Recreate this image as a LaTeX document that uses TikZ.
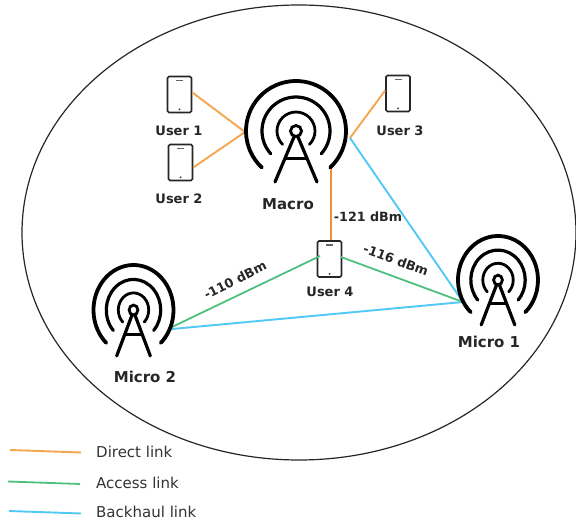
\documentclass[tikz,border=0pt]{standalone}
\usepackage{fontspec}
\usetikzlibrary{shapes.geometric}
\setmainfont{DejaVu Sans}
\definecolor{directc}{HTML}{F4A64E}
\definecolor{directd}{HTML}{EC9234}
\definecolor{accessc}{HTML}{4DBF7F}
\definecolor{backc}{HTML}{52C8F4}
\newcommand{\towerdraw}[5]{%
  \coordinate (#1) at (#2,#3);
  \begin{scope}[shift={(#1)},xscale=#4,yscale=#5,line cap=round]
    \draw[line width=3.8pt] (227:50pt) arc (227:-47:50pt);
    \draw[line width=3.2pt] (222:34pt) arc (222:-42:34pt);
    \draw[line width=2.8pt] (225:19pt) arc (225:-45:19pt);
    \draw[line width=2.8pt] (0,0) circle (5.5pt);
    \draw[line width=3.2pt] (-21,51) -- (-2,6);
    \draw[line width=3.2pt] (21,51) -- (2,6);
    \draw[line width=3pt] (-10,27) -- (10,27);
  \end{scope}}
\tikzset{
  phone/.style={draw=black!85,line width=1.7pt,rounded corners=1.5pt,minimum width=24pt,inner sep=0pt,fill=white,minimum height=36pt},
  lbl/.style={font=\fontsize{13}{15}\selectfont\bfseries,text=black!85,inner sep=0pt},
  biglbl/.style={font=\fontsize{15}{17}\selectfont\bfseries,text=black!85,inner sep=0pt},
  dbm/.style={font=\fontsize{12.7}{15}\selectfont\bfseries,text=black!85,inner sep=0pt},
  leg/.style={font=\fontsize{15}{17}\selectfont,text=black!80,inner sep=0pt,anchor=west},
  direct/.style={draw=directc,line width=1.9pt},
  directv/.style={draw=directd,line width=1.8pt},
  access/.style={draw=accessc,line width=1.8pt},
  backhaul/.style={draw=backc,line width=1.9pt}
}
\newcommand{\phonedraw}[3]{%
  \node[phone] (#1) at (#2,#3) {};
  \fill[black!60] ([yshift=-4pt]#1.north) ++(-3.5pt,0pt) rectangle ++(7pt,-1.6pt);
  \fill[black!75] ([yshift=4pt]#1.south) circle (1.1pt);}
\begin{document}
\begin{tikzpicture}[x=1pt,y=-1pt]
\useasboundingbox (0,0) rectangle (576,527);
\node[draw=black!85,line width=1.2pt,ellipse,minimum width=554pt,minimum height=455pt,inner sep=0pt] (cell) at (299,232.5) {};

\coordinate (mL) at (245,132);
\coordinate (mR) at (350,138);
\coordinate (mB) at (331,166);
\coordinate (m1) at (463,302);
\coordinate (m2a) at (172,327);
\coordinate (m2b) at (172,329);

\phonedraw{u1}{179.5}{94.5}
\phonedraw{u2}{180.5}{162.5}
\phonedraw{u3}{398}{93.5}
\phonedraw{u4}{329.5}{259}

\draw[direct] (u1.east) ++(0,-2) coordinate (u1p) (u1p) -- (mL);
\draw[direct] (u2.east) ++(0,5) coordinate (u2p) (u2p) -- (mL);
\draw[direct] (u3.west) ++(0,-3) coordinate (u3p) (u3p) -- (mR);
\draw[backhaul] (mR) -- (m1);
\draw[directv] (mB) -- (u4.north -| mB);
\coordinate (u4l) at (320,256);
\coordinate (u4r) at (341,257);
\draw[access] (m2a) -- (u4l);
\draw[access] (u4r) -- (m1);
\draw[backhaul] (m2b) -- (m1);

\towerdraw{macro}{296}{131}{1}{1}
\towerdraw{microa}{498}{280}{0.8}{0.88}
\towerdraw{microb}{133.5}{310}{0.8}{0.9}

\node[lbl] (l1) at (179,131) {User 1};
\node[lbl] (l2) at (179,199) {User 2};
\node[lbl] (l3) at (400,131) {User 3};
\node[lbl] (l4) at (330,292) {User 4};
\node[biglbl] (lm) at (288,204) {Macro};
\node[biglbl] (lm1) at (489,342) {Micro 1};
\node[biglbl] (lm2) at (145,377) {Micro 2};
\node[dbm] (d1) at (368,217) {-121 dBm};
\node[dbm,rotate=27] (d2) at (235,280) {-110 dBm};
\node[dbm,rotate=-20] (d3) at (396,260) {-116 dBm};

\coordinate (a1) at (10,450); \coordinate (a2) at (81,452.5);
\coordinate (b1) at (8,481.5); \coordinate (b2) at (80,484);
\coordinate (c1) at (9,511); \coordinate (c2) at (81,513.5);
\draw[direct] (a1) -- (a2);
\draw[access] (b1) -- (b2);
\draw[backhaul] (c1) -- (c2);
\node[leg] (t1) at (96,452) {Direct link};
\node[leg] (t2) at (96,483) {Access link};
\node[leg] (t3) at (96,512) {Backhaul link};
\end{tikzpicture}
\end{document}
